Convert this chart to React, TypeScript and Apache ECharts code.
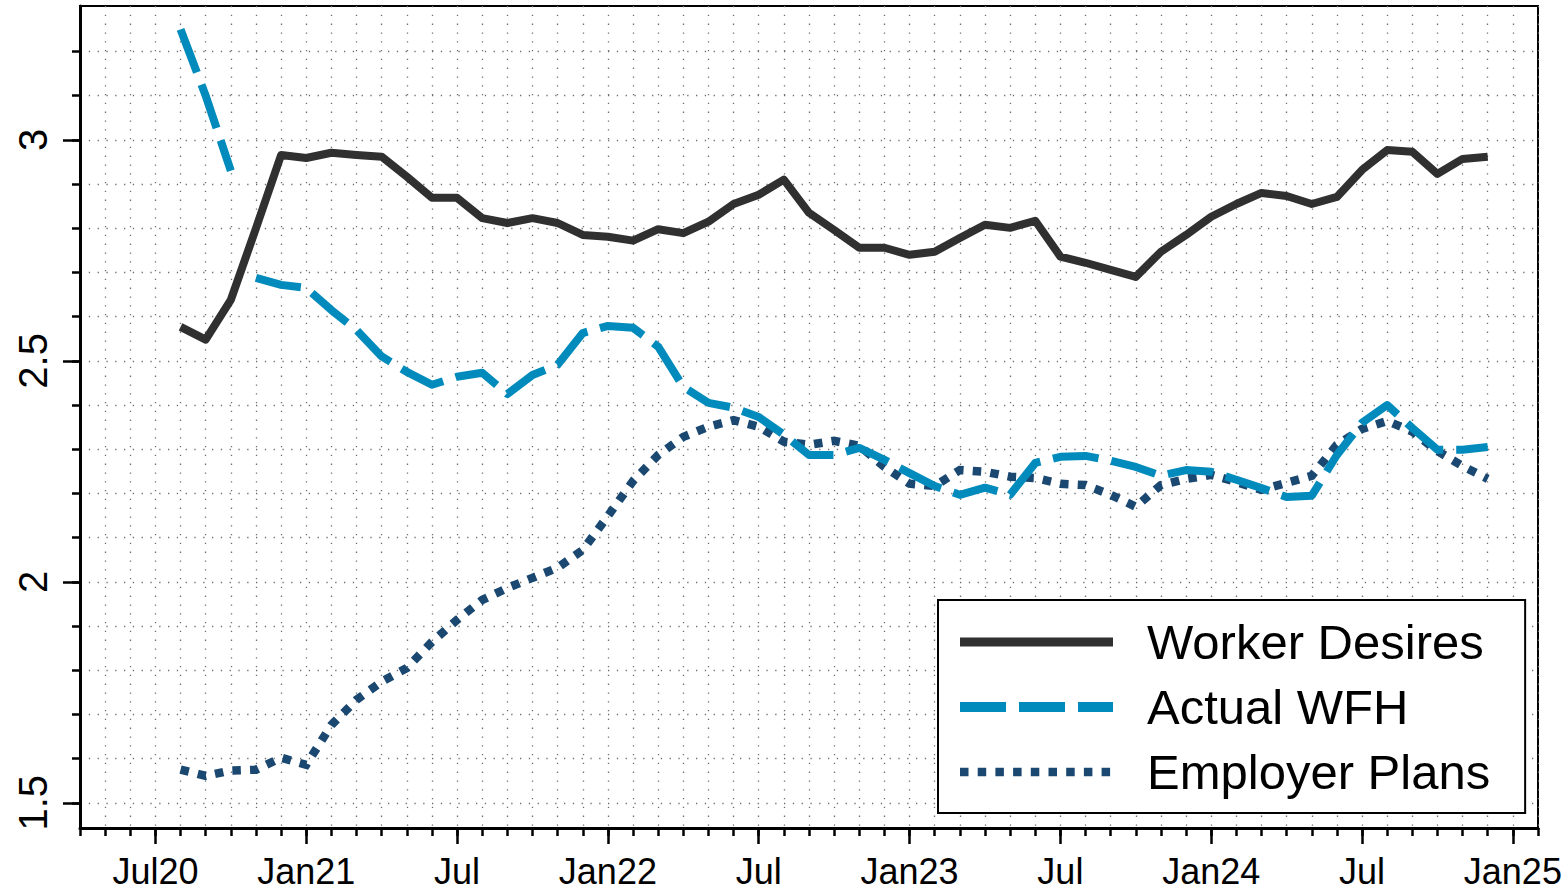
import React, { useEffect, useRef } from "react";
import * as echarts from "echarts";

const FONT = "'Liberation Sans', Arial, Helvetica, sans-serif";

// Axis categories: Apr 2020 .. Feb 2025 (monthly)
const months: string[] = [
  "2020-04", "2020-05", "2020-06", "2020-07", "2020-08", "2020-09", "2020-10", "2020-11", "2020-12",
  "2021-01", "2021-02", "2021-03", "2021-04", "2021-05", "2021-06", "2021-07", "2021-08", "2021-09", "2021-10", "2021-11", "2021-12",
  "2022-01", "2022-02", "2022-03", "2022-04", "2022-05", "2022-06", "2022-07", "2022-08", "2022-09", "2022-10", "2022-11", "2022-12",
  "2023-01", "2023-02", "2023-03", "2023-04", "2023-05", "2023-06", "2023-07", "2023-08", "2023-09", "2023-10", "2023-11", "2023-12",
  "2024-01", "2024-02", "2024-03", "2024-04", "2024-05", "2024-06", "2024-07", "2024-08", "2024-09", "2024-10", "2024-11", "2024-12",
  "2025-01", "2025-02",
];

// Labelled (major) ticks
const tickMonths: string[] = ["2020-07", "2021-01", "2021-07", "2022-01", "2022-07", "2023-01", "2023-07", "2024-01", "2024-07", "2025-01"];
const tickLabels: string[] = ["Jul20", "Jan21", "Jul", "Jan22", "Jul", "Jan23", "Jul", "Jan24", "Jul", "Jan25"];

// Y axis ticks
const yMajorTicks: number[] = [1.5, 2, 2.5, 3];
const yMinorTicks: number[] = [1.5, 1.6, 1.7, 1.8, 1.9, 2, 2.1, 2.2, 2.3, 2.4, 2.5, 2.6, 2.7, 2.8, 2.9, 3, 3.1, 3.2];

// Worker Desires: Aug 2020 .. Dec 2024
const workerStart = "2020-08";
const workerDesires: number[] = [
  2.577, 2.548, 2.638, 2.80, 2.966,
  2.959, 2.971, 2.966, 2.962, 2.917, 2.869, 2.869, 2.823, 2.812, 2.823, 2.812, 2.785,
  2.781, 2.772, 2.798, 2.789, 2.815, 2.855, 2.876, 2.910, 2.835, 2.796, 2.756, 2.756,
  2.740, 2.747, 2.778, 2.808, 2.801, 2.817, 2.736, 2.722, 2.706, 2.690, 2.747, 2.785,
  2.826, 2.855, 2.880, 2.873, 2.855, 2.871, 2.932, 2.977, 2.973, 2.923, 2.957, 2.962,
];

// Actual WFH: early segment Aug–Oct 2020, then Nov 2020 .. Dec 2024 (break between)
const actualEarlyStart = "2020-08";
const actualWfhEarly: number[] = [3.25, 3.10, 2.93];
const actualStart = "2020-11";
const actualWfh: number[] = [
  2.688, 2.672,
  2.665, 2.615, 2.570, 2.510, 2.475, 2.446, 2.464, 2.473, 2.425, 2.468, 2.491, 2.563,
  2.579, 2.575, 2.532, 2.441, 2.405, 2.394, 2.373, 2.333, 2.287, 2.287, 2.303, 2.276,
  2.246, 2.217, 2.197, 2.213, 2.197, 2.269, 2.283, 2.285, 2.274, 2.260, 2.240, 2.253,
  2.249, 2.231, 2.212, 2.192, 2.195, 2.287, 2.360, 2.400, 2.348, 2.299, 2.299, 2.305,
];

// Employer Plans: Aug 2020 .. Dec 2024
const employerStart = "2020-08";
const employerPlans: number[] = [
  1.575, 1.561, 1.573, 1.575, 1.602,
  1.586, 1.676, 1.733, 1.774, 1.805, 1.864, 1.914, 1.959, 1.986, 2.009, 2.032, 2.072,
  2.149, 2.228, 2.287, 2.328, 2.351, 2.366, 2.351, 2.317, 2.310, 2.319, 2.308, 2.260,
  2.222, 2.217, 2.253, 2.249, 2.238, 2.235, 2.222, 2.219, 2.197, 2.170, 2.219, 2.233,
  2.242, 2.226, 2.208, 2.224, 2.240, 2.310, 2.346, 2.364, 2.340, 2.296, 2.262, 2.233,
];

const COLOR_WORKER = "#303030";
const COLOR_ACTUAL = "#008bbc";
const COLOR_EMPLOYER = "#1b4871";

const ACTUAL_DASH = [46, 13];
const EMP_DASH = [8.5, 9.2];

function toPairs(start: string, values: number[]) {
  const s = months.indexOf(start);
  return values.map((v, i) => [months[s + i], v]);
}

export default function App() {
  const ref = useRef<HTMLDivElement>(null);

  useEffect(() => {
    if (!ref.current) return;
    const chart = echarts.init(ref.current, undefined, { renderer: "svg" });

    const gridLine = { color: "#6f6f6f", width: 1.3, type: [1.3, 7.5] };
    const isMajor = (_i: number, v: string) => tickMonths.indexOf(v) >= 0;

    const option: any = {
      animation: false,
      backgroundColor: "#ffffff",
      textStyle: { fontFamily: FONT },
      grid: {
        left: 80,
        right: 27,
        top: 6,
        bottom: 62,
        show: true,
        borderColor: "#000",
        borderWidth: 2,
        backgroundColor: "transparent",
        containLabel: false,
        outerBoundsMode: "none",
      },
      xAxis: [
        {
          type: "category",
          data: months,
          boundaryGap: false,
          position: "bottom",
          axisLine: { show: true, lineStyle: { color: "#000", width: 3 } },
          axisTick: { show: true, interval: 0, length: 8, lineStyle: { color: "#000", width: 2.5 } },
          axisLabel: { show: false },
          splitLine: { show: true, interval: 0, lineStyle: gridLine },
        },
        {
          type: "category",
          data: months,
          boundaryGap: false,
          position: "bottom",
          axisLine: { show: false },
          axisTick: { show: true, interval: isMajor, length: 16, lineStyle: { color: "#000", width: 2.5 } },
          axisLabel: {
            show: true,
            interval: isMajor,
            formatter: (v: string) => tickLabels[tickMonths.indexOf(v)] ?? "",
            fontSize: 36,
            lineHeight: 36,
            color: "#000",
            fontFamily: FONT,
            margin: 25,
          },
          splitLine: { show: false },
        },
      ],
      yAxis: [
        {
          type: "value",
          min: 1.443,
          max: 3.303,
          position: "left",
          axisLine: { show: true, lineStyle: { color: "#000", width: 3 } },
          axisTick: { show: true, customValues: yMinorTicks, length: 8, lineStyle: { color: "#000", width: 2.5 } },
          axisLabel: { show: false },
          splitLine: { show: true, lineStyle: gridLine },
        },
        {
          type: "value",
          min: 1.443,
          max: 3.303,
          position: "left",
          axisLine: { show: false },
          axisTick: { show: true, customValues: yMajorTicks, length: 17, lineStyle: { color: "#000", width: 2.5 } },
          axisLabel: {
            show: true,
            customValues: yMajorTicks,
            rotate: 90,
            fontSize: 40,
            color: "#000",
            fontFamily: FONT,
            margin: 27,
          },
          splitLine: { show: false },
        },
      ],
      legend: {
        show: true,
        orient: "vertical",
        left: 938,
        top: 600,
        backgroundColor: "#fff",
        borderColor: "#000",
        borderWidth: 2,
        borderRadius: 0,
        padding: [17, 35, 16, 17],
        itemWidth: 153,
        itemHeight: 10,
        itemGap: 15,
        selectedMode: false,
        textStyle: {
          fontSize: 49,
          color: "#000",
          fontFamily: FONT,
          lineHeight: 47,
          padding: [3, 0, 0, 29],
        },
        data: [
          {
            name: "Worker Desires",
            itemStyle: { opacity: 0 },
            lineStyle: { color: COLOR_WORKER, width: 9, type: "solid", cap: "butt" },
          },
          {
            name: "Actual WFH",
            itemStyle: { opacity: 0 },
            lineStyle: { color: COLOR_ACTUAL, width: 10, type: ACTUAL_DASH, cap: "butt" },
          },
          {
            name: "Employer Plans",
            itemStyle: { opacity: 0 },
            lineStyle: { color: COLOR_EMPLOYER, width: 8.5, type: EMP_DASH, cap: "butt" },
          },
        ],
      },
      series: [
        {
          name: "Worker Desires",
          type: "line",
          xAxisIndex: 0,
          yAxisIndex: 0,
          symbol: "none",
          data: toPairs(workerStart, workerDesires),
          lineStyle: { color: COLOR_WORKER, width: 8, join: "round", cap: "butt" },
          itemStyle: { color: COLOR_WORKER },
          z: 4,
        },
        {
          name: "Actual WFH",
          type: "line",
          xAxisIndex: 0,
          yAxisIndex: 0,
          symbol: "none",
          data: toPairs(actualEarlyStart, actualWfhEarly),
          lineStyle: { color: COLOR_ACTUAL, width: 8, type: ACTUAL_DASH, join: "round", cap: "butt" },
          itemStyle: { color: COLOR_ACTUAL },
          z: 3,
        },
        {
          name: "Actual WFH",
          type: "line",
          xAxisIndex: 0,
          yAxisIndex: 0,
          symbol: "none",
          data: toPairs(actualStart, actualWfh),
          lineStyle: { color: COLOR_ACTUAL, width: 8, type: ACTUAL_DASH, join: "round", cap: "butt" },
          itemStyle: { color: COLOR_ACTUAL },
          z: 3,
        },
        {
          name: "Employer Plans",
          type: "line",
          xAxisIndex: 0,
          yAxisIndex: 0,
          symbol: "none",
          data: toPairs(employerStart, employerPlans),
          lineStyle: { color: COLOR_EMPLOYER, width: 8.5, type: EMP_DASH, join: "miter", cap: "butt" },
          itemStyle: { color: COLOR_EMPLOYER },
          z: 2,
        },
      ],
    };

    chart.setOption(option);
    return () => chart.dispose();
  }, []);

  return (
    <div
      ref={ref}
      style={{ position: "absolute", left: 0, top: 0, width: 1565, height: 890, background: "#fff" }}
    />
  );
}
